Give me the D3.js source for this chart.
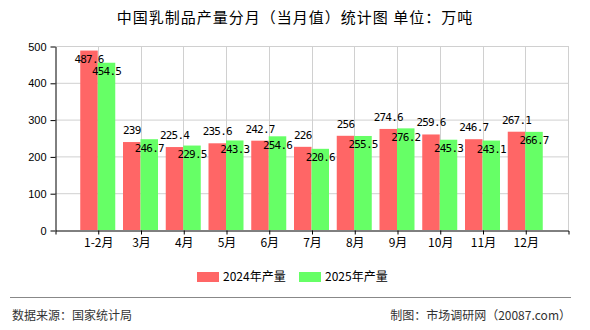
<!DOCTYPE html>
<html>
<head>
<meta charset="utf-8">
<script src="https://cdn.jsdelivr.net/npm/d3@7"></script>
<style>
    body { margin: 0; background: #fff; }
    svg { display: block; }
</style>
</head>
<body>
<div id="chart"></div>
<script>
const months = ["1-2月", "3月", "4月", "5月", "6月", "7月", "8月", "9月", "10月", "11月", "12月"];
const prod2024 = [487.6, 239, 225.4, 235.6, 242.7, 226, 256, 274.6, 259.6, 246.7, 267.1];
const prod2025 = [454.5, 246.7, 229.5, 243.3, 254.6, 220.6, 255.5, 276.2, 245.3, 243.1, 266.7];
const seriesNames = ["2024年产量", "2025年产量"];
const yTicks = [0, 100, 200, 300, 400, 500];

const width = 590, height = 330;
const plot = { left: 55, right: 568, top: 46, bottom: 230 };

const colors = ["#ff6666", "#66ff66"];
const cjk = "'Noto Sans CJK SC', 'Noto Sans', sans-serif";

const svg = d3.select("#chart").append("svg")
    .attr("width", width)
    .attr("height", height);

// title
svg.append("text")
    .attr("x", 295)
    .attr("y", 23)
    .attr("text-anchor", "middle")
    .style("font-family", cjk)
    .style("font-size", "15px")
    .style("letter-spacing", "1px")
    .style("fill", "#000")
    .text("中国乳制品产量分月（当月值）统计图 单位：万吨");

// scales
const xScale = d3.scalePoint()
    .domain(months)
    .range([plot.left, plot.right])
    .padding(1);

const yScale = d3.scaleLinear()
    .domain([0, 500])
    .range([plot.bottom, plot.top]);

const barW = 17.5;

// grid
const grid = svg.append("g").attr("class", "grid");
grid.selectAll(".hgrid")
    .data(yTicks.slice(1))
    .enter().append("line")
    .attr("x1", plot.left)
    .attr("x2", plot.right)
    .attr("y1", (d) => yScale(d) + 0.5)
    .attr("y2", (d) => yScale(d) + 0.5)
    .style("stroke", "#d0d0d0");

grid.selectAll(".vgrid")
    .data(months.map((m) => xScale(m)).concat([plot.right]))
    .enter().append("line")
    .attr("x1", (d) => Math.round(d) + 0.5)
    .attr("x2", (d) => Math.round(d) + 0.5)
    .attr("y1", plot.top)
    .attr("y2", plot.bottom)
    .style("stroke", "#d0d0d0");

// bars
const series = [prod2024, prod2025];
series.forEach((vals, s) => {
    svg.append("g").selectAll("rect")
        .data(vals)
        .enter().append("rect")
        .attr("x", (d, i) => xScale(months[i]) - barW + s * barW)
        .attr("y", (d) => yScale(d))
        .attr("width", barW)
        .attr("height", (d) => plot.bottom - yScale(d))
        .style("fill", colors[s]);
});

// value labels
const labelFont = "'DejaVu Sans Mono', monospace";
series.forEach((vals, s) => {
    svg.append("g").selectAll("text")
        .data(vals)
        .enter().append("text")
        .attr("x", (d, i) => xScale(months[i]) - barW / 2 + s * barW)
        .attr("y", (d) => {
            const top = yScale(d);
            if (s === 0 && top - 16 >= plot.top) return top - 8;
            return top + 12.5;
        })
        .attr("text-anchor", "middle")
        .style("font-family", labelFont)
        .style("font-size", "11px")
        .style("letter-spacing", "-0.8px")
        .style("fill", "#000")
        .text((d) => d);
});

// y axis
svg.append("g")
    .attr("transform", `translate(${plot.left + 0.5}, 0.5)`)
    .call(d3.axisLeft(yScale).tickValues(yTicks).tickSize(5).tickSizeOuter(0).tickPadding(4))
    .call((g) => g.selectAll("text")
        .style("font-family", "'Liberation Sans', Arial, sans-serif")
        .style("font-size", "11px")
        .style("fill", "#000"));

// x axis
svg.append("g")
    .attr("transform", `translate(0.5, ${plot.bottom + 0.5})`)
    .call(d3.axisBottom(xScale).tickSize(4).tickSizeOuter(4).tickPadding(4))
    .call((g) => g.selectAll("text")
        .style("font-family", cjk)
        .style("font-size", "12px")
        .style("fill", "#000"));

// legend
const legend = svg.append("g").attr("class", "legend");
const legendX = [197, 299];
seriesNames.forEach((name, i) => {
    legend.append("rect")
        .attr("x", legendX[i])
        .attr("y", 272)
        .attr("width", 22)
        .attr("height", 10)
        .style("fill", colors[i]);
    legend.append("text")
        .attr("x", legendX[i] + 26)
        .attr("y", 281)
        .style("font-family", cjk)
        .style("font-size", "12px")
        .style("fill", "#000")
        .text(name);
});

// footer
svg.append("line")
    .attr("x1", 10)
    .attr("x2", 571)
    .attr("y1", 297.5)
    .attr("y2", 297.5)
    .style("stroke", "#888");

svg.append("text")
    .attr("x", 12)
    .attr("y", 320)
    .style("font-family", cjk)
    .style("font-size", "12px")
    .style("fill", "#333")
    .text("数据来源：国家统计局");

svg.append("text")
    .attr("x", 571)
    .attr("y", 320)
    .attr("text-anchor", "end")
    .style("font-family", cjk)
    .style("font-size", "12px")
    .style("fill", "#333")
    .text("制图：市场调研网（20087.com）");
</script>
</body>
</html>
